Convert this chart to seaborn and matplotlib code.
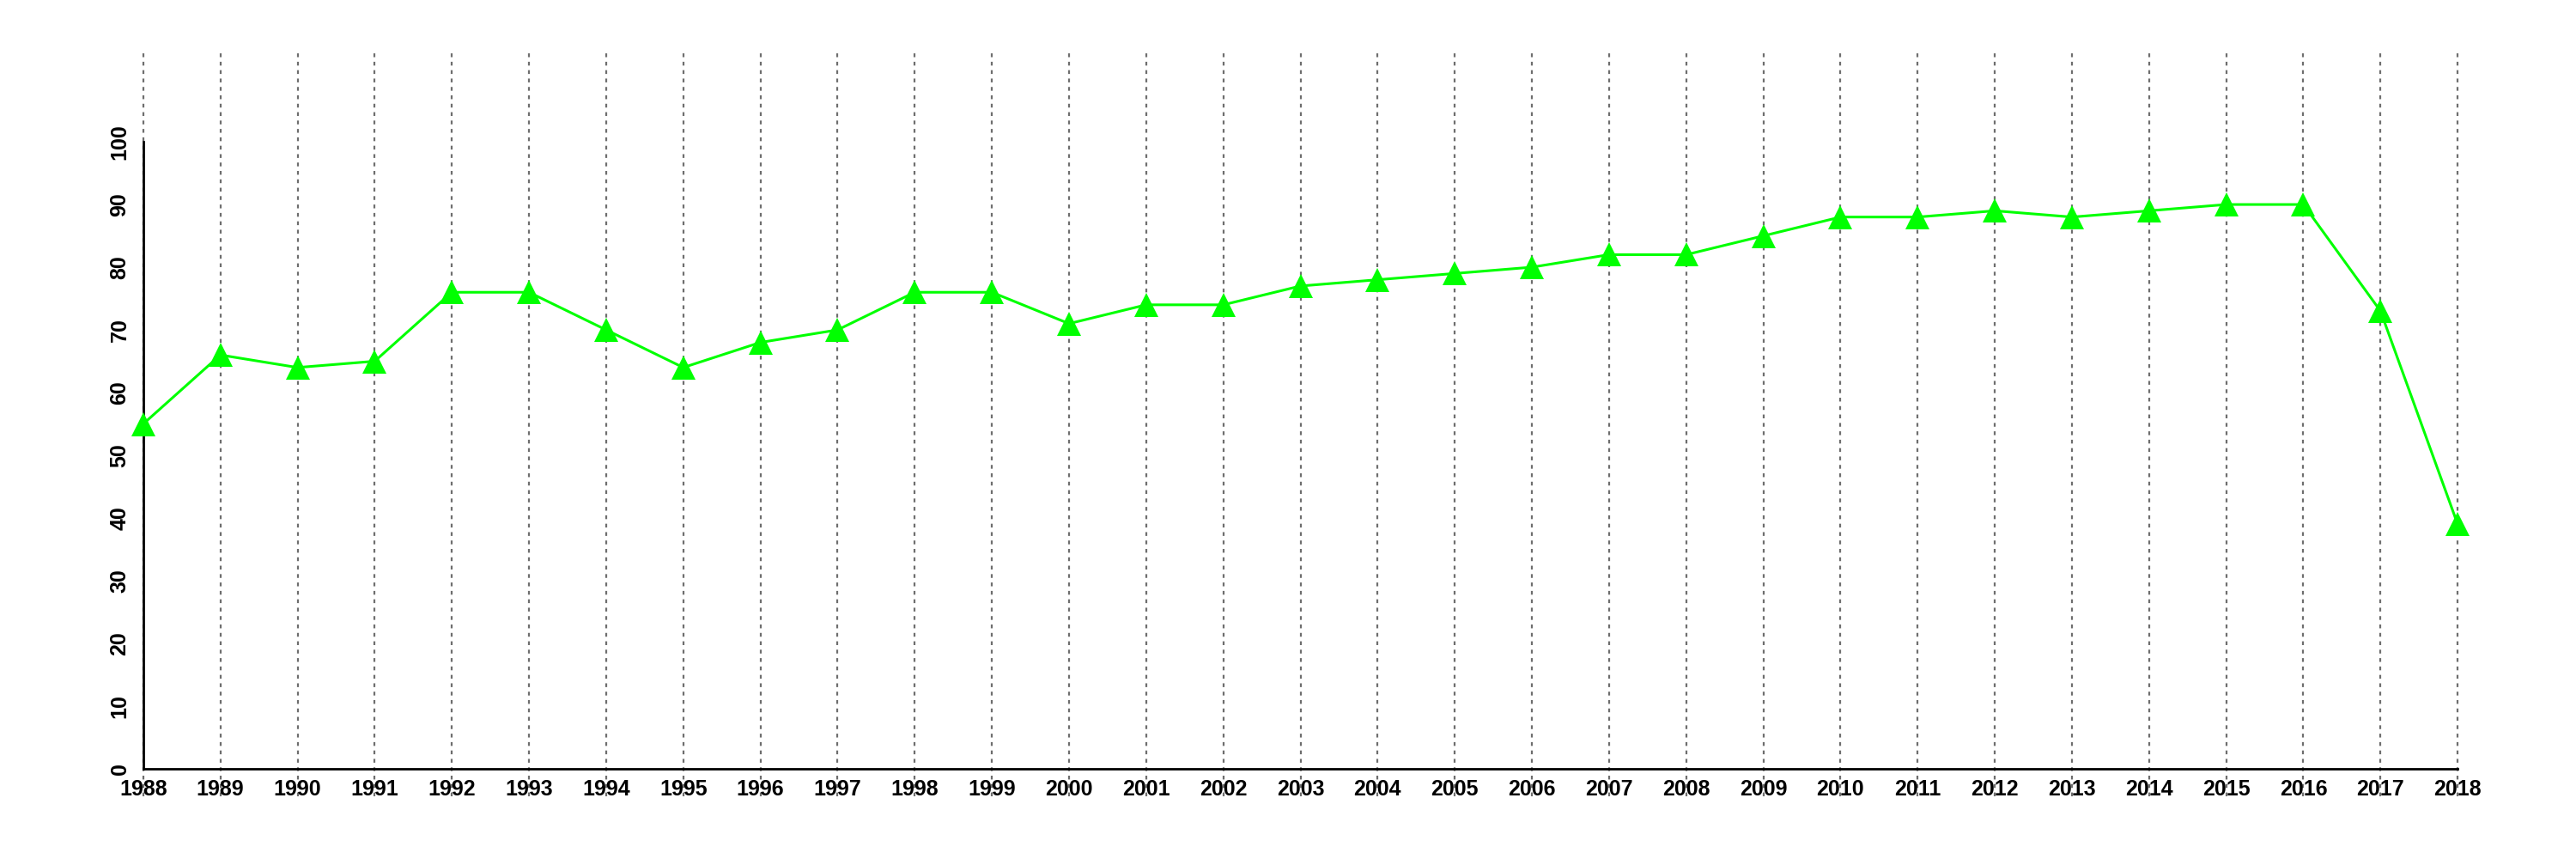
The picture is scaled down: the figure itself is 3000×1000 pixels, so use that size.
import pandas as pd
import seaborn as sns
import matplotlib
matplotlib.use("Agg")
import matplotlib.pyplot as plt

# values
years = list(range(1988, 2019))
values = [55, 66, 64, 65, 76, 76, 70, 64, 68, 70,
          76, 76, 71, 74, 74, 77, 78, 79, 80, 82,
          82, 85, 88, 88, 89, 88, 89, 90, 90, 73, 39]
y_ticks = list(range(0, 101, 10))

df = pd.DataFrame({"Year": years, "Value": values})

sns.set_style("white")
plt.rcParams['font.family'] = ['Liberation Sans', 'DejaVu Sans']

fig = plt.figure(figsize=(30, 10), dpi=100)
ax = fig.add_axes([59 / 3000, 0.073, (2970 - 59) / 3000, 0.94 - 0.073])

# dotted vertical guides at every year
for yr in years:
    ax.axvline(yr, color="#6e6e6e", lw=1.6, ls=(0, (2.0, 2.4)), zorder=0)

sns.lineplot(data=df, x="Year", y="Value", ax=ax, color="#00ff00", lw=2.2,
             marker="^", markersize=20, markeredgewidth=0, zorder=3)

ax.set_xlim(1986.8, 2019.2)
ax.set_ylim(-4.4, 114.4)
ax.set_xlabel("")
ax.set_ylabel("")

# axes cross at (1988, 0) like base R axis()
for s in ["top", "right"]:
    ax.spines[s].set_visible(False)
ax.spines["left"].set_position(("data", 1988))
ax.spines["left"].set_bounds(0, 100)
ax.spines["bottom"].set_position(("data", 0))
ax.spines["bottom"].set_bounds(1988, 2018)
for s in ["left", "bottom"]:
    ax.spines[s].set_linewidth(2)
    ax.spines[s].set_color("black")

# ticks after spine moves (set_position resets ticks)
ax.set_xticks(years)
ax.set_yticks(y_ticks)
ax.tick_params(axis="both", direction="out", length=7, width=2, color="black",
               labelsize=18, labelcolor="black")
ax.tick_params(axis="x", pad=2)
ax.tick_params(axis="y", pad=4, labelrotation=90)
for lab in ax.get_xticklabels() + ax.get_yticklabels():
    lab.set_fontweight("bold")
for lab in ax.get_yticklabels():
    lab.set_va("center")

fig.savefig("out.png", dpi=100, facecolor="white")
